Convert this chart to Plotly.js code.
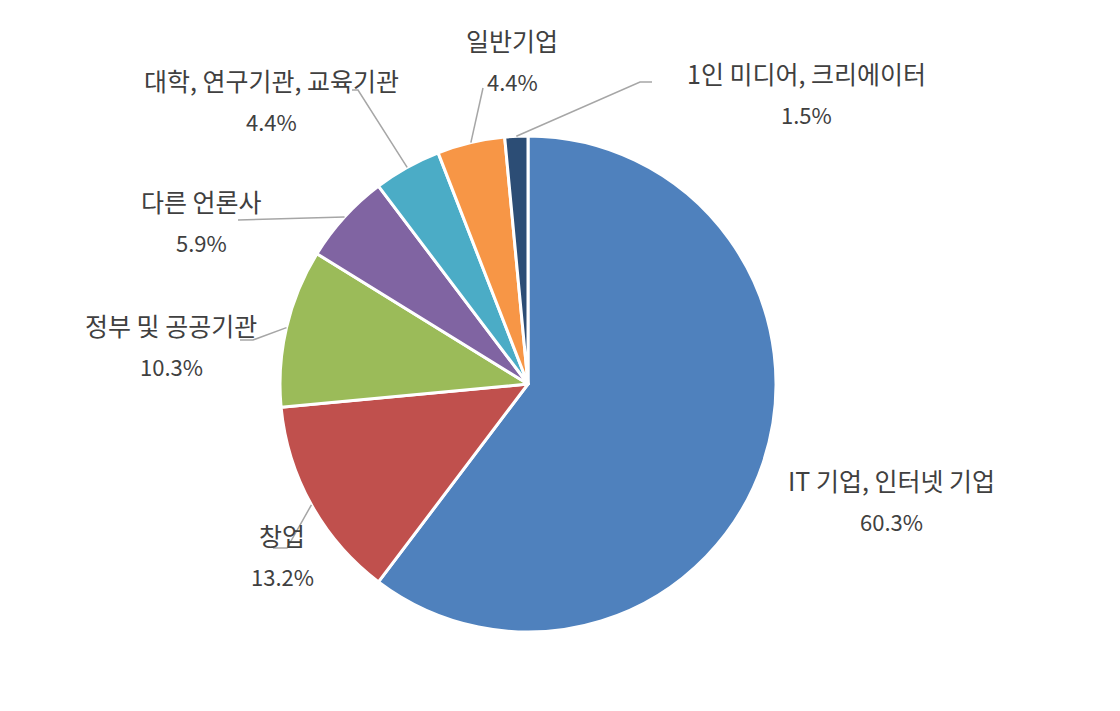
<!DOCTYPE html>
<html>
<head>
<meta charset="utf-8">
<script src="https://cdn.plot.ly/plotly-3.0.1.min.js"></script>
<style>
  body { margin: 0; background: #fff; }
  #plot { width: 1120px; height: 711px; }
</style>
</head>
<body>
<div id="plot"></div>
<script>
// data
var labels = ['IT 기업, 인터넷 기업', '창업', '정부 및 공공기관', '다른 언론사',
              '대학, 연구기관, 교육기관', '일반기업', '1인 미디어, 크리에이터'];
var values = [60.3, 13.2, 10.3, 5.9, 4.4, 4.4, 1.5];
var colors = ['#4F81BD', '#C0504D', '#9BBB59', '#8064A2', '#4BACC6', '#F79646', '#2C4D75'];

// layout: page size, pie centre/radius (px), label centres and leader elbows (px)
var W = 1120, H = 711;
var cx = 528, cy = 384, R = 248;
var labelPos = [[892, 480], [282, 535], [171, 325], [201, 201], [271, 80], [512, 40], [806, 73]];
var lineGap = 41;
var elbows = [
  null,
  [[287, 548], [273, 548]],
  [[253, 340], [240, 340]],
  [[238, 220]],
  [[358, 90], [352, 90]],
  [[483, 88]],
  [[640, 82], [652, 82]]
];

function px(x) { return x / W; }
function py(y) { return 1 - y / H; }

var trace = {
  type: 'pie',
  labels: labels,
  values: values,
  sort: false,
  direction: 'clockwise',
  rotation: 0,
  textinfo: 'none',
  hoverinfo: 'label+percent',
  marker: { colors: colors, line: { color: '#ffffff', width: 3 } },
  domain: { x: [px(cx - R), px(cx + R)], y: [py(cy + R), py(cy - R)] }
};

var total = values.reduce(function(a, b) { return a + b; }, 0);
var annotations = [];
var shapes = [];
var cum = 0;
var family = 'Noto Sans CJK KR, Noto Sans, sans-serif';
var nameFont = { family: family, size: 25, color: '#404040' };
var pctFont = { family: family, size: 22, color: '#404040' };

for (var i = 0; i < values.length; i++) {
  var pct = (values[i] / total * 100).toFixed(1) + '%';
  annotations.push({
    xref: 'paper', yref: 'paper', x: px(labelPos[i][0]), y: py(labelPos[i][1]),
    text: labels[i], showarrow: false, xanchor: 'center', yanchor: 'middle', font: nameFont
  });
  annotations.push({
    xref: 'paper', yref: 'paper', x: px(labelPos[i][0]), y: py(labelPos[i][1] + lineGap),
    text: pct, showarrow: false, xanchor: 'center', yanchor: 'middle', font: pctFont
  });

  // leader line from the slice mid point on the rim
  var mid = (cum + values[i] / 2) / total * 2 * Math.PI;
  cum += values[i];
  if (elbows[i]) {
    var sx = cx + R * Math.sin(mid), sy = cy - R * Math.cos(mid);
    var path = 'M ' + px(sx) + ' ' + py(sy);
    elbows[i].forEach(function(p) { path += ' L ' + px(p[0]) + ' ' + py(p[1]); });
    shapes.push({
      type: 'path', xref: 'paper', yref: 'paper', path: path,
      line: { color: '#A6A6A6', width: 1.5 }
    });
  }
}

var layout = {
  width: W, height: H,
  margin: { l: 0, r: 0, t: 0, b: 0 },
  paper_bgcolor: '#ffffff',
  showlegend: false,
  annotations: annotations,
  shapes: shapes
};

Plotly.newPlot('plot', [trace], layout, { displayModeBar: false, staticPlot: true });
</script>
</body>
</html>
